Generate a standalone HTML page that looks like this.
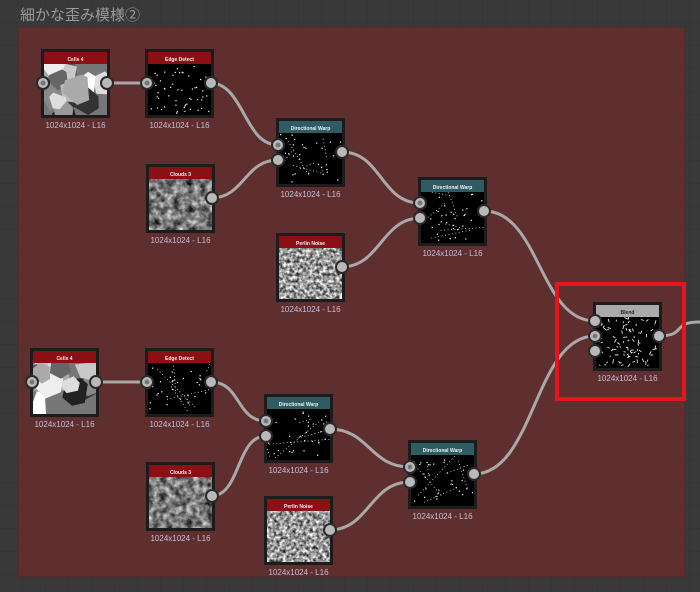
<!DOCTYPE html>
<html><head><meta charset="utf-8">
<style>
html,body{margin:0;padding:0;background:#3a3a3a;}
svg{display:block;}
text{font-family:"Liberation Sans","Noto Sans CJK JP",sans-serif;}
</style></head>
<body>
<svg id="s" width="700" height="592" viewBox="0 0 700 592" xmlns="http://www.w3.org/2000/svg">
<defs>
<pattern id="g1" width="23" height="23" patternUnits="userSpaceOnUse">
<rect width="23" height="23" fill="#393939"/><path d="M23 0V23H0" fill="none" stroke="#333" stroke-width="1"/>
</pattern>
<pattern id="g2" width="23" height="23" patternUnits="userSpaceOnUse" x="18" y="27">
<rect width="23" height="23" fill="#5f2e2f"/><path d="M23 0V23H0" fill="none" stroke="#573032" stroke-width="1"/>
</pattern>
<filter id="cl" x="0" y="0" width="100%" height="100%" color-interpolation-filters="sRGB">
<feTurbulence type="fractalNoise" baseFrequency="0.15" numOctaves="5" seed="5" result="n"/>
<feColorMatrix in="n" type="matrix" values="1.15 0 0 0 -0.1  1.15 0 0 0 -0.1  1.15 0 0 0 -0.1  0 0 0 0 1"/>
</filter>
<filter id="pn" x="0" y="0" width="100%" height="100%" color-interpolation-filters="sRGB">
<feTurbulence type="fractalNoise" baseFrequency="0.3" numOctaves="2" seed="7" result="n"/>
<feColorMatrix in="n" type="matrix" values="1.5 0 0 0 -0.15  1.5 0 0 0 -0.15  1.5 0 0 0 -0.15  0 0 0 0 1"/>
</filter>
</defs>
<rect width="700" height="592" fill="url(#g1)"/>
<text x="20" y="20" font-size="15" fill="#9a9a9a">細かな歪み模様②</text>
<rect x="18" y="27" width="667" height="550" fill="url(#g2)" stroke="#4a2a2a" stroke-width="1"/>
<g id="wires" fill="none" stroke="#a9a9a9" stroke-width="3"></g>
<g id="nodes"></g>
<rect x="557" y="284" width="127" height="115" fill="none" stroke="#e8141c" stroke-width="4"/>
</svg>
<script>
var NS="http://www.w3.org/2000/svg";
function el(t,a,p){var e=document.createElementNS(NS,t);for(var k in a)e.setAttribute(k,a[k]);(p||document.getElementById('nodes')).appendChild(e);return e;}
var seed=1;function rnd(){seed=(seed*16807)%2147483647;return seed/2147483647;}
function wire(x1,y1,x2,y2){var dx=Math.max(30,(x2-x1)*0.5);el('path',{d:'M'+x1+' '+y1+' C'+(x1+dx)+' '+y1+' '+(x2-dx)+' '+y2+' '+x2+' '+y2},document.getElementById('wires'));}
var W=[[107,83,147,83],[210,83,278,145],[211,198,278,160],[342,152,420,203],[341,267,421,218],[484,211,595,321],
[95,382,147,382],[211,382,266,421],[211,496,266,436],[329,429,410,467],[329,530,410,482],[474,474,595,336],[658,336,700,322]];
W.forEach(function(w){wire.apply(null,w);});
function port(x,y,inner){el('circle',{cx:x,cy:y,r:6,fill:'#b9b9b9',stroke:'#2a2a2a','stroke-width':2});if(inner)el('circle',{cx:x,cy:y,r:2.5,fill:'#777'});}
function node(x,y,title,hc,type,ins,outs){
 var w=69,h=69;
 el('rect',{x:x,y:y,width:w,height:h,fill:'#1c1c1c'});
 el('rect',{x:x+3,y:y+3,width:w-6,height:12,fill:hc});
 el('text',{x:x+w/2,y:y+12,'font-size':5,'font-weight':'bold',fill:hc=='#aaaaaa'?'#222':'#eee','text-anchor':'middle'}).textContent=title;
 var ix=x+3,iy=y+15,iw=w-6,ih=h-18;
 if(type=='clouds'){el('rect',{x:ix,y:iy,width:iw,height:ih,fill:'#777',filter:'url(#cl)'});}
 else if(type=='perlin'){el('rect',{x:ix,y:iy,width:iw,height:ih,fill:'#777',filter:'url(#pn)'});}
 else if(type=='cells'){
  el('rect',{x:ix,y:iy,width:iw,height:ih,fill:'#777'});
  var cols=['#aaa','#ddd','#555','#fff','#333','#888','#c8c8c8','#222','#999','#eee','#666','#bbb'];
  for(var i=0;i<14;i++){var cx=ix+rnd()*iw,cy=iy+rnd()*ih,r=8+rnd()*8,pts='';for(var k=0;k<6;k++){var a=k/6*6.28+rnd();pts+=Math.max(ix,Math.min(ix+iw,cx+Math.cos(a)*r))+','+Math.max(iy,Math.min(iy+ih,cy+Math.sin(a)*r))+' ';}el('polygon',{points:pts,fill:cols[i%cols.length]});}
 } else {
  el('rect',{x:ix,y:iy,width:iw,height:ih,fill:'#000'});
  var n=type=='blend'?90:(type=='dots'?55:30);
  for(var i=0;i<n;i++){var px=ix+1+rnd()*(iw-3),py=iy+1+rnd()*(ih-3);
   if(type=='blend'){var a=rnd()*6.28,l=1.5+rnd()*3;el('line',{x1:px,y1:py,x2:Math.max(ix,Math.min(ix+iw,px+Math.cos(a)*l)),y2:Math.max(iy,Math.min(iy+ih,py+Math.sin(a)*l)),stroke:'#fff','stroke-width':0.8});}
   else el('rect',{x:px,y:py,width:1.2,height:1.2,fill:'#fff'});}
  if(type=='lines'){for(var i=0;i<6;i++){el('line',{x1:ix+rnd()*iw,y1:iy+rnd()*ih,x2:ix+rnd()*iw,y2:iy+rnd()*ih,stroke:'#fff','stroke-width':0.7,'stroke-dasharray':'1 2.5'});}}
 }
 el('text',{x:x+w/2,y:y+h+10,'font-size':8,fill:'#c4bed8','text-anchor':'middle'}).textContent='1024x1024 - L16';
 ins.forEach(function(p){port(x+2,p[0],p[1]);});
 outs.forEach(function(p){port(x+w-3,p,false);});
}
var R='#8a1016',T='#2e5c62',G='#aaaaaa';
node(41,49,'Cells 4',R,'cells',[[83,1]],[83]);
node(145,49,'Edge Detect',R,'dots',[[83,1]],[83]);
node(276,118,'Directional Warp',T,'lines',[[145,1],[160,0]],[152]);
node(146,164,'Clouds 3',R,'clouds',[],[198]);
node(418,177,'Directional Warp',T,'lines',[[203,1],[218,0]],[211]);
node(276,233,'Perlin Noise',R,'perlin',[],[267]);
node(593,302,'Blend',G,'blend',[[321,0],[336,1],[351,0]],[336]);
node(30,348,'Cells 4',R,'cells',[[382,1]],[382]);
node(145,348,'Edge Detect',R,'lines',[[382,1]],[382]);
node(264,394,'Directional Warp',T,'lines',[[421,1],[436,0]],[429]);
node(146,462,'Clouds 3',R,'clouds',[],[496]);
node(408,440,'Directional Warp',T,'lines',[[467,1],[482,0]],[474]);
node(264,496,'Perlin Noise',R,'perlin',[],[530]);
</script>
</body></html>
